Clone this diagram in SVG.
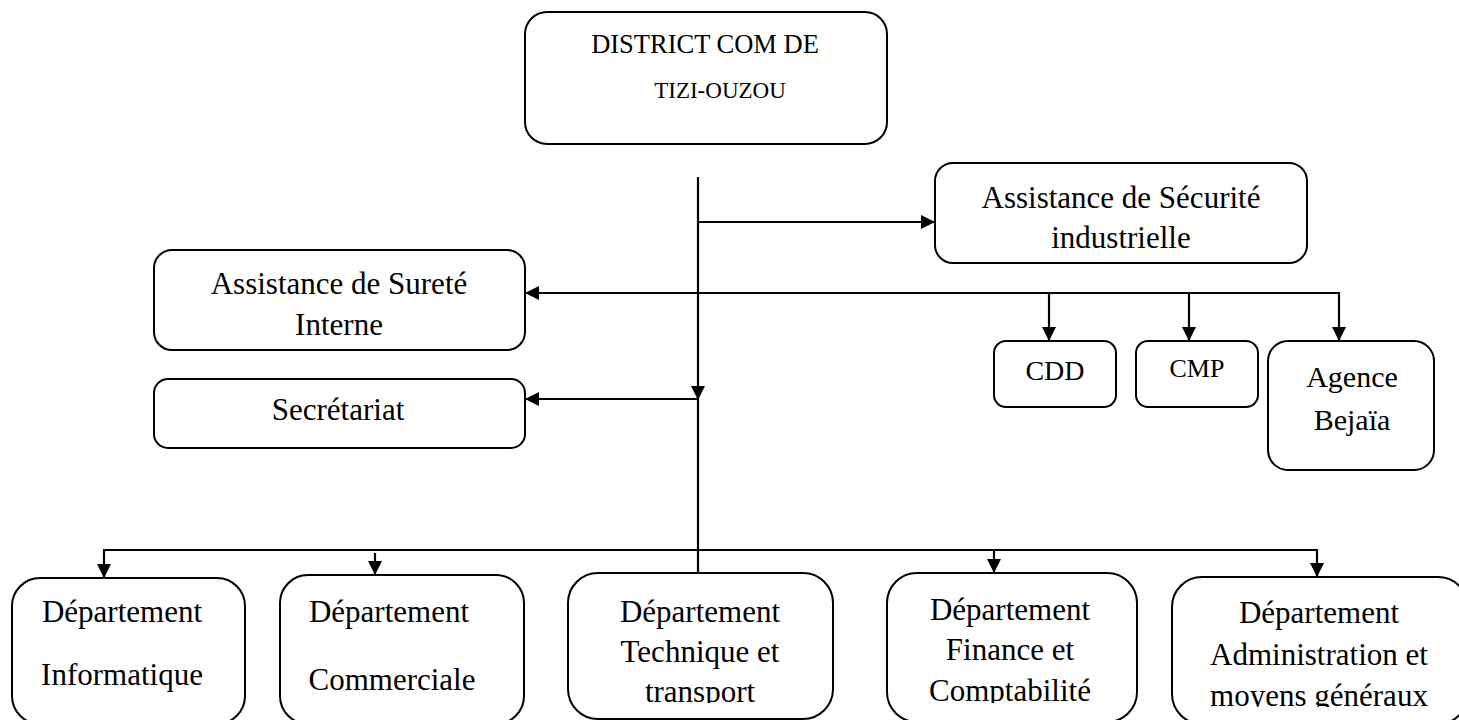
<svg xmlns="http://www.w3.org/2000/svg" width="1459" height="720" viewBox="0 0 1459 720">
  <style>
    .box { fill: #ffffff; stroke: #000000; stroke-width: 2; }
    .lbl { font-family: "Liberation Serif", "Times New Roman", serif; fill: #000000; text-anchor: middle; }
    .conn { fill: none; stroke: #000000; stroke-width: 2.2; }
  </style>
  <defs>
    <marker id="arrow" markerUnits="userSpaceOnUse" markerWidth="15" markerHeight="15" refX="14" refY="7.5" orient="auto">
      <path d="M0,0.5 L14,7.5 L0,14.5 z" fill="#000000"/>
    </marker>
    <clipPath id="clipTech"><rect x="560" y="570" width="280" height="133"/></clipPath>
    <clipPath id="clipFin"><rect x="880" y="570" width="265" height="133"/></clipPath>
    <clipPath id="clipAdm"><rect x="1165" y="570" width="300" height="137"/></clipPath>
  </defs>

  <rect width="1459" height="720" fill="#ffffff"/>

  <!-- connectors -->
  <g id="connectors">
    <path class="conn" d="M698,177 V573"/>
    <polygon points="691,386 705,386 698,400" fill="#000000"/>
    <path class="conn" d="M698,222 H935" marker-end="url(#arrow)"/>
    <path class="conn" d="M1339,293 H525" marker-end="url(#arrow)"/>
    <path class="conn" d="M698,399 H525" marker-end="url(#arrow)"/>
    <path class="conn" d="M1049,293 V341" marker-end="url(#arrow)"/>
    <path class="conn" d="M1189,293 V341" marker-end="url(#arrow)"/>
    <path class="conn" d="M1339,292 V341" marker-end="url(#arrow)"/>
    <path class="conn" d="M104,550 H1318"/>
    <path class="conn" d="M104,549 V578" marker-end="url(#arrow)"/>
    <path class="conn" d="M375,553 V575" marker-end="url(#arrow)"/>
    <path class="conn" d="M994,550 V573" marker-end="url(#arrow)"/>
    <path class="conn" d="M1317,549 V577" marker-end="url(#arrow)"/>
  </g>

  <!-- nodes -->
  <g id="district">
    <rect class="box" x="525" y="12" width="362" height="132" rx="22"/>
    <text class="lbl" x="705" y="53" font-size="26.5">DISTRICT COM DE</text>
    <text class="lbl" x="720" y="98" font-size="23">TIZI-OUZOU</text>
  </g>

  <g id="securite">
    <rect class="box" x="935" y="163" width="372" height="100" rx="18"/>
    <text class="lbl" x="1121" y="208" font-size="31">Assistance de Sécurité</text>
    <text class="lbl" x="1121" y="248" font-size="31">industrielle</text>
  </g>

  <g id="surete">
    <rect class="box" x="154" y="250" width="371" height="100" rx="18"/>
    <text class="lbl" x="339" y="294" font-size="31">Assistance de Sureté</text>
    <text class="lbl" x="339" y="335" font-size="31">Interne</text>
  </g>

  <g id="secretariat">
    <rect class="box" x="154" y="379" width="371" height="69" rx="14"/>
    <text class="lbl" x="338" y="420" font-size="31">Secrétariat</text>
  </g>

  <g id="cdd">
    <rect class="box" x="994" y="341" width="122" height="66" rx="12"/>
    <text class="lbl" x="1055" y="380" font-size="28">CDD</text>
  </g>

  <g id="cmp">
    <rect class="box" x="1136" y="341" width="122" height="66" rx="12"/>
    <text class="lbl" x="1197" y="377" font-size="26">CMP</text>
  </g>

  <g id="agence">
    <rect class="box" x="1268" y="341" width="166" height="129" rx="20"/>
    <text class="lbl" x="1352" y="387" font-size="30">Agence</text>
    <text class="lbl" x="1352" y="430" font-size="30">Bejaïa</text>
  </g>

  <g id="informatique">
    <rect class="box" x="12" y="578" width="233" height="146" rx="28"/>
    <text class="lbl" x="122" y="622" font-size="31">Département</text>
    <text class="lbl" x="122" y="685" font-size="31">Informatique</text>
  </g>

  <g id="commerciale">
    <rect class="box" x="280" y="575" width="244" height="149" rx="28"/>
    <text class="lbl" x="389" y="622" font-size="31">Département</text>
    <text class="lbl" x="392" y="690" font-size="31">Commerciale</text>
  </g>

  <g id="technique">
    <rect class="box" x="568" y="573" width="265" height="146" rx="30"/>
    <g clip-path="url(#clipTech)">
      <text class="lbl" x="700" y="622" font-size="31">Département</text>
      <text class="lbl" x="700" y="662" font-size="31">Technique et</text>
      <text class="lbl" x="700" y="702" font-size="31">transport</text>
    </g>
  </g>

  <g id="finance">
    <rect class="box" x="887" y="573" width="250" height="149" rx="30"/>
    <g clip-path="url(#clipFin)">
      <text class="lbl" x="1010" y="620" font-size="31">Département</text>
      <text class="lbl" x="1010" y="660" font-size="31">Finance et</text>
      <text class="lbl" x="1010" y="701" font-size="31">Comptabilité</text>
    </g>
  </g>

  <g id="administration">
    <rect class="box" x="1172" y="577" width="296" height="147" rx="30"/>
    <g clip-path="url(#clipAdm)">
      <text class="lbl" x="1319" y="623" font-size="31">Département</text>
      <text class="lbl" x="1319" y="665" font-size="31">Administration et</text>
      <text class="lbl" x="1319" y="706" font-size="31">moyens généraux</text>
    </g>
  </g>
</svg>
